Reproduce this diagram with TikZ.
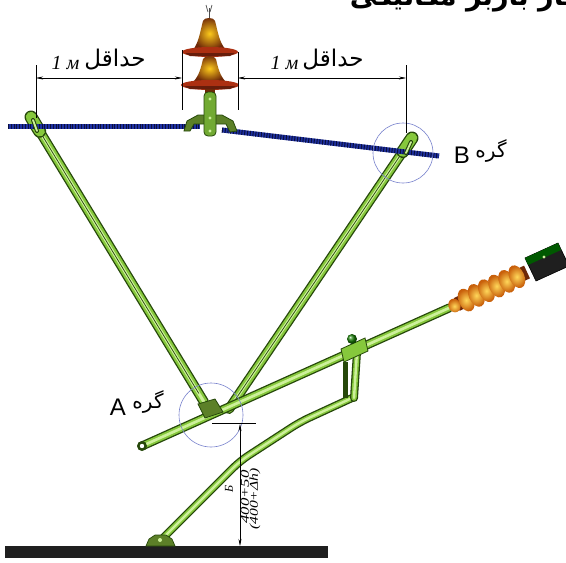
\documentclass[tikz,border=0pt]{standalone}
\usepackage{fontspec}
\usepackage{graphicx}
\setmainfont{Liberation Serif}
\newfontfamily\farsi[Script=Arabic]{DejaVu Sans}
\newfontfamily\latinsans{Liberation Sans}
\TeXXeTstate=1
\usetikzlibrary{arrows.meta,calc}

\definecolor{rodfill}{RGB}{134,200,60}
\definecolor{rodedge}{RGB}{38,72,10}
\definecolor{rodlight}{RGB}{205,240,155}
\definecolor{olive}{RGB}{92,128,40}
\definecolor{wireblue}{RGB}{30,48,160}
\definecolor{wiredark}{RGB}{10,15,60}
\definecolor{ringblue}{RGB}{120,130,205}
\definecolor{discred}{RGB}{172,48,18}
\definecolor{bellorange}{RGB}{250,165,45}
\definecolor{bellbrown}{RGB}{110,40,8}
\definecolor{springlight}{RGB}{255,215,90}
\definecolor{springdark}{RGB}{200,95,10}

% a green steel rod along any path
\newcommand\greenrod[2][9]{%
  \draw[rodedge, line width=#1pt, line cap=round, line join=round] #2;
  \draw[rodfill, line width=#1pt-2.6pt, line cap=round, line join=round] #2;
  \draw[rodlight, line width=0.3*#1pt, line cap=round, line join=round] #2;
}

\begin{document}
\begin{tikzpicture}[x=1pt,y=-1pt,
  dimline/.style={black, line width=0.5pt},
  dimarrow/.style={dimline, {Stealth[length=7pt,width=3pt]}-{Stealth[length=7pt,width=3pt]}},
  ring/.style={ringblue, line width=0.6pt},
  dimtext/.style={font=\itshape\fontsize{20}{22}\selectfont},
  fatext/.style={font=\farsi\fontsize{23}{26}\selectfont},
  knot/.style={font=\farsi\fontsize{20}{23}\selectfont},
  bigletter/.style={font=\latinsans\fontsize{24}{26}\selectfont},
  wire/.style={wireblue, line width=5pt},
  wiretwist/.style={wiredark, line width=5pt, dash pattern=on 1pt off 1.8pt},
]
\clip (0,0) rectangle (566,563);
\useasboundingbox (0,0) rectangle (566,563);
\fill[white] (0,0) rectangle (566,563);

% ---------- key points ----------
\coordinate (wL) at (8,126);
\coordinate (wM1) at (200,126);
\coordinate (wM2) at (222,130);
\coordinate (wR) at (439,156);
\coordinate (hangL) at (31,117);
\coordinate (hangB) at (412,138);
\coordinate (footL) at (204,402);
\coordinate (footR) at (229,409);
\coordinate (eye) at (142,446);
\coordinate (armEnd) at (449,308);
\coordinate (springEnd) at (527,272);
\coordinate (hinge) at (160,541);
\coordinate (bend) at (240,461);
\coordinate (bend2) at (300,422);
\coordinate (strutTop) at (352,398);
\coordinate (clampPt) at (357,352);

% ---------- title (running off the top edge) ----------
\node[anchor=base east, font=\farsi\bfseries\fontsize{27}{30}\selectfont] (title) at (602,5)
  {\beginR مهار باربر مکانیکی\endR};

% ---------- ground ----------
\fill[black!88] (5,546) rectangle (328,558);

% ---------- hanger rods ----------
\greenrod[10]{(hangL) -- (footL)}
\draw[rodedge, line width=0.7pt] ($(hangL)!0.06!(footL)$) -- ($(hangL)!0.97!(footL)$);
\greenrod[10]{(hangB) -- (footR)}
\draw[rodedge, line width=0.7pt] ($(hangB)!0.06!(footR)$) -- ($(hangB)!0.97!(footR)$);

% flat clamp ends on the wire
\draw[rodedge, line width=13pt, line cap=round] (hangL) -- ($(hangL)!0.05!(footL)$);
\draw[rodfill, line width=10.5pt, line cap=round] (hangL) -- ($(hangL)!0.05!(footL)$);
\draw[rodedge, line width=13pt, line cap=round] (hangB) -- ($(hangB)!0.05!(footR)$);
\draw[rodfill, line width=10.5pt, line cap=round] (hangB) -- ($(hangB)!0.05!(footR)$);

% ---------- messenger wire ----------
\draw[wire] (wL) -- (wM1);
\draw[wiretwist] (wL) -- (wM1);
\draw[wire] (wM2) -- (wR);
\draw[wiretwist] (wM2) -- (wR);

% loops of the clamps over the wire
\draw[rodedge, line width=4pt, line cap=round] (33,120) -- (37,131);
\draw[rodlight, line width=1.8pt, line cap=round] (33,120) -- (37,131);
\draw[rodedge, line width=4pt, line cap=round] (411,142) -- (406,153);
\draw[rodlight, line width=1.8pt, line cap=round] (411,142) -- (406,153);

% ---------- insulator stack ----------
\draw[gray!60!black, line width=1pt] (209,8) -- (209,20);
\draw[gray!60!black, line width=0.7pt] (206,5) -- (208,12) (212,5) -- (210,12);
\shade[inner color=bellorange!60!yellow, outer color=bellbrown]
  (203,21) .. controls (204,17) and (214,17) .. (215,21)
  .. controls (218,32) and (219,42) .. (226,50)
  -- (193,50) .. controls (199,42) and (200,32) .. (203,21) -- cycle;
\fill[discred] (210,52) ellipse (28 and 5);
\fill[discred!60!black] (185,53) -- (235,53) -- (230,56) -- (190,56) -- cycle;
\shade[inner color=bellorange!60!yellow, outer color=bellbrown]
  (203,59) .. controls (204,55) and (215,55) .. (216,59)
  .. controls (218,68) and (220,76) .. (226,82)
  -- (193,82) .. controls (199,76) and (201,68) .. (203,59) -- cycle;
\fill[discred] (210,85) ellipse (29 and 5);
\fill[discred!60!black] (184,86) -- (236,86) -- (230,89) -- (190,89) -- cycle;
\fill[bellbrown] (205,89) rectangle (215,94);
% saddle clamp
\draw[rodedge, fill=olive, line width=0.8pt]
  (184,131) -- (187,121) -- (198,115) -- (222,115) -- (233,121) -- (237,131)
  -- (230,132) -- (226,124) -- (194,124) -- (190,131) -- cycle;
% link
\draw[rodedge, fill=rodfill!85!black, line width=0.8pt, rounded corners=4pt]
  (204,92) rectangle (216,136);
\foreach \yy in {99,118,131} \fill[rodlight] (210,\yy) circle (1.6);

% ---------- main arm with spiral insulator ----------
\greenrod[9]{(eye) -- (armEnd)}
\fill[rodedge] (eye) circle (5);
\fill[white] (eye) circle (2.2);

% spiral insulator
\draw[bellbrown, line width=14pt] ($(armEnd)!0.1!(springEnd)$) -- (springEnd);
\shade[inner color=springlight, outer color=springdark, rotate around={24.3:($(armEnd)!0.07!(springEnd)$)}]
  ($(armEnd)!0.07!(springEnd)$) ellipse (6 and 7);
\foreach \t in {0.22,0.35,0.48,0.61,0.74,0.87}
  \shade[inner color=springlight, outer color=springdark, rotate around={24.3:($(armEnd)!\t!(springEnd)$)}]
    ($(armEnd)!\t!(springEnd)$) ellipse (7.5 and 12);
% end fitting
\draw[black, fill=black!88, line width=0.6pt]
  (525,258) -- (558,243) -- (569,266) -- (536,281) -- cycle;
\fill[black!65!green] (525,258) -- (558,243) -- (561,250) -- (528,265) -- cycle;
\fill[rodlight] (544,257) circle (1.6);

% ---------- pull-off rod ----------
\greenrod[8]{[rounded corners=10pt] (hinge) -- (bend) -- (bend2) -- (strutTop)}
% hinge plate at ground
\draw[rodedge, fill=olive, line width=0.7pt]
  (146,546) -- (149,539) -- (155,535) -- (166,535) -- (172,539) -- (175,546) -- cycle;
\fill[rodlight] (160,540) circle (2);

% ---------- bracket on the arm ----------
\draw[rodedge, line width=5pt] (345,362) -- (345,398);
\greenrod[8]{(clampPt) -- (354,398)}
\draw[rodedge, fill=rodfill, line width=0.8pt]
  (341,349) -- (365,338) -- (368,351) -- (344,362) -- cycle;
\shade[ball color=rodedge!70!green] (352,339) circle (5);

% ---------- joint block A ----------
\draw[rodedge, fill=olive, line width=0.8pt]
  (198,404) -- (215,399) -- (223,412) -- (205,418) -- cycle;

% ---------- rings around the joints ----------
\draw[ring] (211,415) circle (32);
\draw[ring] (403,153) circle (30);

% ---------- dimensions 1 m ----------
\coordinate (e1t) at (36,65);   \coordinate (e1b) at (36,118);
\coordinate (e2t) at (182,50);  \coordinate (e2b) at (182,110);
\coordinate (e3t) at (238,52);  \coordinate (e3b) at (238,110);
\coordinate (e4t) at (406,65);  \coordinate (e4b) at (406,133);
\draw[dimline] (e1t) -- (e1b);
\draw[dimline] (e2t) -- (e2b);
\draw[dimline] (e3t) -- (e3b);
\draw[dimline] (e4t) -- (e4b);
\coordinate (d1a) at (36,78);  \coordinate (d1b) at (182,78);
\coordinate (d2a) at (238,78); \coordinate (d2b) at (406,78);
\draw[dimarrow] (d1a) -- (d1b);
\draw[dimarrow] (d2a) -- (d2b);

\node[dimtext, anchor=base west] (m1) at (48,69) {1 м};
\node[fatext] (f1) at (115,60) {\beginR حداقل\endR};
\node[dimtext, anchor=base west] (m2) at (267,69) {1 м};
\node[fatext] (f2) at (333,60) {\beginR حداقل\endR};

% ---------- height of the arm ----------
\coordinate (hL) at (212,423); \coordinate (hR) at (256,423);
\draw[dimline] (hL) -- (hR);
\coordinate (dimTop) at (240,424); \coordinate (dimBot) at (240,546);
\draw[dimarrow] (dimTop) -- (dimBot);
\node[rotate=90, font=\itshape\fontsize{12}{14}\selectfont] (bsym) at (229,489) {Б};
\node[rotate=90, font=\itshape\fontsize{12}{14}\selectfont] (h1) at (245,497) {\scalebox{1.4}[1]{400+50}};
\node[rotate=90, font=\itshape\fontsize{12}{14}\selectfont] (h2) at (255,499) {\scalebox{1.3}[1]{(400+Δh)}};

% ---------- joint labels ----------
\node[bigletter] (lb) at (462,155) {B};
\node[knot] (gb) at (491,151) {\beginR گره\endR};
\node[bigletter] (la) at (118,407) {A};
\node[knot] (ga) at (148,402) {\beginR گره\endR};
\end{tikzpicture}
\end{document}
